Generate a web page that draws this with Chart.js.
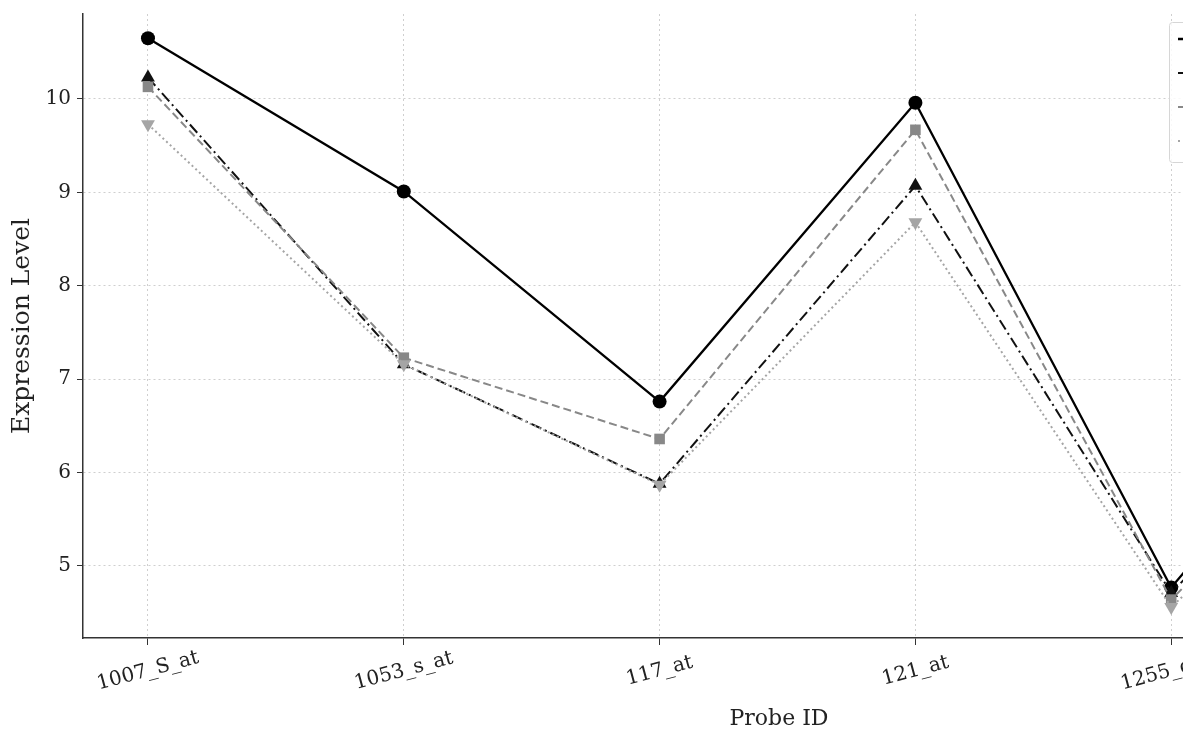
<!DOCTYPE html>
<html><head><meta charset="utf-8">
<script src="https://cdn.jsdelivr.net/npm/chart.js@4.4.1/dist/chart.umd.min.js"></script>
<style>
html,body{margin:0;padding:0;overflow:hidden;background:#fff;width:1183px;height:734px}
#wrap{position:absolute;left:0;top:0;width:1500px;height:734px}
</style></head><body>
<div id="wrap"><canvas id="c" width="1500" height="734"></canvas></div>
<script>
const probes = ['1007_S_at', '1053_s_at', '117_at', '121_at', '1255_g_at', '1294_at'];
const seriesNames = ['Sample 1', 'Sample 2', 'Sample 3', 'Sample 4'];
const s1 = [10.65, 9.01, 6.76, 9.96, 4.77, 8.0];
const s2 = [10.23, 7.16, 5.88, 9.07, 4.71, 7.6];
const s3 = [10.13, 7.23, 6.36, 9.67, 4.64, 7.4];
const s4 = [9.73, 7.16, 5.87, 8.68, 4.56, 7.1];
const yTicks = [5, 6, 7, 8, 9, 10];

const FONT = '"DejaVu Serif", serif';
const styles = [
  {color: '#000000', dash: [], point: 'circle', rot: 0, r: 7, w: 2.3},
  {color: '#111111', dash: [11, 4, 2, 4], point: 'triangle', rot: 0, r: 8, w: 2},
  {color: '#888888', dash: [8, 4], point: 'rect', rot: 0, r: 7.5, w: 2},
  {color: '#a5a5a5', dash: [2, 3], point: 'triangle', rot: 180, r: 8, w: 2}
];
const allSeries = [s1, s2, s3, s4];

const datasets = allSeries.map((s, i) => ({
  label: seriesNames[i],
  data: s.map((v, k) => ({x: k, y: v})),
  borderColor: styles[i].color,
  backgroundColor: styles[i].color,
  borderWidth: styles[i].w,
  borderDash: styles[i].dash,
  pointStyle: styles[i].point,
  pointRotation: styles[i].rot,
  pointRadius: styles[i].r,
  pointBackgroundColor: styles[i].color,
  pointBorderColor: styles[i].color,
  pointBorderWidth: 0,
  tension: 0,
  order: 3 - i
}));

const overlay = {
  id: 'overlay',
  afterDraw(chart) {
    const ctx = chart.ctx;
    const xs = chart.scales.x;
    const ca = chart.chartArea;
    ctx.save();
    ctx.font = '20px ' + FONT;
    ctx.fillStyle = '#222';
    ctx.textAlign = 'center';
    ctx.textBaseline = 'middle';
    xs.ticks.forEach(t => {
      const x = xs.getPixelForValue(t.value);
      ctx.save();
      ctx.translate(x, ca.bottom + 33);
      ctx.rotate(-15 * Math.PI / 180);
      ctx.fillText(probes[t.value], 0, 0);
      ctx.restore();
    });
    ctx.font = '22px ' + FONT;
    ctx.fillStyle = '#222';
    ctx.fillText('Probe ID', 779, 719);
    ctx.save();
    ctx.font = '25px ' + FONT;
    ctx.translate(22, (ca.top + ca.bottom) / 2);
    ctx.rotate(-Math.PI / 2);
    ctx.fillText('Expression Level', 0, 0);
    ctx.restore();
    const lw = 318, lx = ca.right - 5 - lw, ly = 22, lh = 140;
    ctx.fillStyle = 'rgba(255,255,255,0.85)';
    ctx.strokeStyle = '#d6d6d6';
    ctx.lineWidth = 1;
    ctx.beginPath();
    ctx.roundRect(lx + 0.5, ly + 0.5, lw, lh, 3);
    ctx.fill();
    ctx.stroke();
    chart.data.datasets.forEach((d, i) => {
      const y = ly + 17 + i * 34;
      const st = styles[i];
      ctx.strokeStyle = st.color;
      ctx.lineWidth = st.w;
      ctx.setLineDash(st.dash);
      ctx.beginPath();
      ctx.moveTo(lx + 9, y);
      ctx.lineTo(lx + 49, y);
      ctx.stroke();
      ctx.setLineDash([]);
      ctx.fillStyle = st.color;
      Chart.helpers.drawPoint(ctx, {pointStyle: st.point, rotation: st.rot, radius: st.r, borderWidth: 0}, lx + 29, y);
      ctx.fillStyle = '#222';
      ctx.textAlign = 'left';
      ctx.font = '20px ' + FONT;
      ctx.fillText(d.label, lx + 62, y);
    });
    ctx.restore();
  }
};

new Chart(document.getElementById('c'), {
  type: 'line',
  data: {datasets},
  options: {
    responsive: false,
    animation: false,
    layout: {padding: {top: 14, right: 7, left: 0, bottom: 0}},
    plugins: {legend: {display: false}, tooltip: {enabled: false}},
    scales: {
      x: {
        type: 'linear',
        min: -0.254, max: 5.254,
        afterFit(scale) { scale.height = 96; scale.paddingLeft = 0; scale.paddingRight = 0; },
        ticks: {stepSize: 1, includeBounds: false, autoSkip: false, maxRotation: 0, minRotation: 0,
                color: 'rgba(0,0,0,0)', font: {family: FONT, size: 20}, callback: v => probes[v] || ''},
        grid: {color: '#cfcfcf', lineWidth: 1, tickLength: 7, tickColor: '#333', drawTicks: true},
        border: {display: true, color: '#333', width: 1.5, dash: [2, 3]}
      },
      y: {
        type: 'linear',
        min: 4.229, max: 10.91,
        afterFit(scale) { scale.width = 83; scale.paddingTop = 0; scale.paddingBottom = 0; },
        afterBuildTicks(scale) { scale.ticks = yTicks.map(v => ({value: v})); },
        ticks: {color: '#222', padding: 6, font: {family: FONT, size: 20}},
        grid: {color: '#cfcfcf', lineWidth: 1, tickLength: 6, tickColor: '#333'},
        border: {display: true, color: '#333', width: 1.5, dash: [2, 3]}
      }
    }
  },
  plugins: [overlay]
});
</script>
</body></html>
